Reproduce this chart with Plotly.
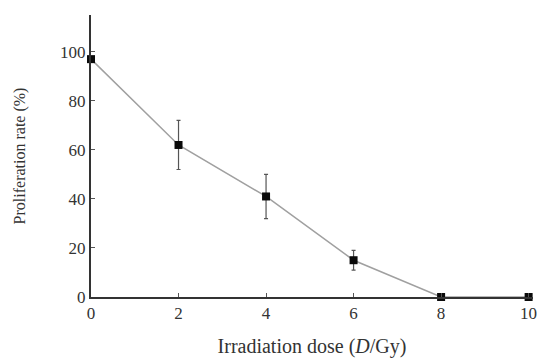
import plotly.graph_objects as go

dose = [0, 2, 4, 6, 8, 10]
rate = [97, 62, 41, 15, 0, 0]
err = [0, 10, 9, 4, 0, 0]
x_ticks = [0, 2, 4, 6, 8, 10]
y_ticks = [0, 20, 40, 60, 80, 100]

fig = go.Figure()
fig.add_trace(go.Scatter(
    x=dose, y=rate,
    mode="lines+markers",
    line=dict(color="#a0a0a0", width=1.5),
    marker=dict(symbol="square", size=8, color="#0a0a0a"),
    error_y=dict(type="data", array=err, visible=True, color="#555555", thickness=1.2, width=2),
    cliponaxis=False,
    showlegend=False,
))

font = dict(family="Liberation Serif, Times New Roman, serif", size=17, color="#333333")

fig.update_layout(
    width=548, height=360,
    margin=dict(l=91, r=15, t=15, b=63),
    paper_bgcolor="white", plot_bgcolor="white",
    font=font,
    xaxis=dict(
        range=[0, 10.1], tickvals=x_ticks, ticktext=[str(v) for v in x_ticks],
        showline=True, linecolor="#333333", linewidth=2, automargin=False,
        ticks="inside", ticklen=4, tickcolor="#555555", showgrid=False, zeroline=False,
        title=dict(text="Irradiation dose (<i>D</i>/Gy)", font=dict(size=20), standoff=17),
    ),
    yaxis=dict(
        range=[0, 115], tickvals=y_ticks, ticktext=[str(v) for v in y_ticks],
        showline=True, linecolor="#333333", linewidth=2, automargin=False,
        ticks="inside", ticklen=4, tickcolor="#555555", showgrid=False, zeroline=False,
        title=dict(text="Proliferation rate (%)", font=dict(size=16), standoff=30),
    ),
)

fig.write_html("out.html", config={"displayModeBar": False},
               post_script="document.body.style.margin='0px';")
